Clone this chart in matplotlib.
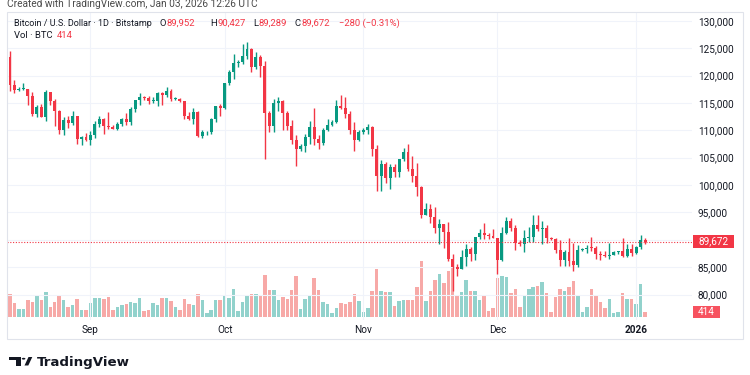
import numpy as np
import pandas as pd
import matplotlib
matplotlib.use('Agg')
import matplotlib.pyplot as plt
from matplotlib.patches import Rectangle, Polygon, Circle

plt.rcParams['font.family'] = ['Roboto', 'DejaVu Sans']

# daily BTC/USD (Bitstamp), prices in thousands of USD
dates = pd.date_range('2025-08-14', '2026-01-03', freq='D')

opens = [123.3, 118.3, 117.4, 117.5, 117.6, 116.3, 112.9, 114.3, 112.5, 116.9,
         115.4, 113.5, 110.1, 111.8, 111.3, 112.6, 108.4, 108.8, 108.3, 109.2,
         111.2, 112.1, 110.7, 110.6, 110.2, 111.2, 112.1, 111.5, 113.9, 115.5,
         116.1, 115.9, 115.3, 115.4, 116.8, 116.5, 117.1, 115.7, 115.8, 115.3,
         112.7, 112.0, 113.3, 109.0, 109.6, 109.7, 112.1, 114.4, 114.0, 118.6,
         120.6, 122.3, 122.4, 123.5, 124.8, 121.5, 123.3, 121.7, 113.2, 110.7,
         115.0, 115.3, 113.1, 110.8, 108.2, 106.5, 107.2, 108.7, 110.6, 108.5,
         107.6, 110.1, 111.0, 111.6, 114.5, 114.1, 112.9, 110.0, 108.3, 109.6,
         110.1, 110.6, 106.5, 101.6, 103.9, 101.3, 103.3, 102.3, 104.7, 106.0,
         103.0, 101.6, 99.7, 94.5, 95.6, 94.2, 92.2, 92.9, 91.5, 86.6,
         85.1, 84.7, 86.8, 88.3, 87.4, 90.5, 91.3, 90.9, 90.8, 90.4,
         86.3, 91.3, 93.5, 92.1, 89.4, 89.3, 90.4, 90.6, 92.7, 92.0,
         92.1, 90.3, 90.2, 88.2, 86.4, 87.8, 86.1, 85.5, 88.1, 88.3,
         88.6, 88.5, 87.4, 87.2, 87.1, 87.3, 87.8, 87.9, 87.1, 88.4,
         87.6, 88.7, 89.952]
highs = [124.5, 119.2, 117.9, 118.6, 117.6, 117.0, 114.6, 114.8, 117.4, 117.0,
         115.7, 113.7, 112.4, 112.6, 113.5, 112.7, 108.9, 109.5, 109.9, 111.7,
         112.6, 112.2, 113.4, 111.0, 111.5, 112.3, 113.2, 114.3, 115.5, 116.8,
         116.3, 116.2, 116.0, 117.0, 117.0, 117.9, 117.5, 116.1, 115.9, 115.4,
         113.3, 114.0, 113.5, 110.0, 109.8, 112.3, 114.5, 114.8, 118.6, 121.0,
         123.9, 122.9, 125.7, 126.2, 125.1, 124.2, 123.8, 122.6, 113.5, 115.8,
         116.0, 115.5, 113.6, 111.9, 109.2, 107.5, 109.4, 111.7, 114.0, 109.2,
         110.4, 112.0, 111.9, 115.5, 116.4, 116.1, 113.6, 111.5, 110.1, 110.5,
         111.2, 110.8, 107.3, 104.5, 104.2, 103.9, 103.9, 104.8, 106.7, 107.5,
         105.3, 104.0, 99.9, 96.8, 96.6, 96.0, 93.8, 92.9, 93.2, 87.5,
         85.6, 88.1, 89.2, 88.7, 90.6, 91.9, 93.0, 91.2, 92.0, 90.4,
         92.3, 94.1, 94.0, 92.7, 90.0, 91.8, 92.3, 94.6, 94.5, 93.5,
         92.8, 90.6, 90.3, 90.0, 88.2, 90.3, 89.4, 89.0, 88.6, 89.0,
         90.6, 88.9, 87.9, 88.0, 89.5, 87.9, 88.0, 90.3, 89.3, 89.2,
         88.8, 90.9, 90.427]
lows = [117.2, 116.8, 117.2, 117.3, 114.7, 112.7, 112.4, 112.4, 111.7, 114.6,
        110.8, 109.3, 109.1, 110.4, 110.9, 107.5, 107.4, 108.1, 107.3, 108.6,
        110.6, 109.4, 110.2, 110.2, 110.0, 110.8, 110.9, 110.9, 113.4, 114.7,
        115.6, 114.8, 114.9, 114.4, 114.6, 116.1, 115.4, 115.6, 115.1, 112.0,
        111.9, 111.1, 108.7, 108.6, 109.1, 109.3, 111.6, 112.7, 113.9, 118.3,
        119.3, 121.6, 122.1, 123.0, 120.6, 121.1, 119.7, 104.8, 109.7, 109.7,
        113.6, 110.1, 110.1, 107.5, 103.5, 106.3, 106.1, 107.5, 107.4, 106.6,
        107.4, 109.8, 110.7, 111.3, 113.9, 112.2, 109.3, 106.3, 108.0, 109.4,
        109.3, 105.3, 98.9, 98.9, 100.3, 99.3, 101.5, 101.5, 104.4, 102.5,
        100.6, 98.0, 94.0, 94.5, 93.0, 91.2, 89.3, 88.6, 86.1, 80.6,
        83.5, 84.6, 85.3, 86.2, 86.4, 90.1, 90.2, 90.2, 90.3, 83.8,
        86.2, 91.0, 91.7, 88.1, 88.9, 87.7, 89.6, 89.6, 91.6, 89.3,
        89.5, 89.9, 87.6, 85.2, 85.3, 85.3, 84.4, 85.1, 88.0, 87.6,
        87.9, 86.6, 86.4, 86.8, 86.6, 87.2, 87.4, 86.8, 86.8, 87.0,
        87.4, 88.4, 89.289]
closes = [118.3, 117.4, 117.5, 117.6, 116.3, 112.9, 114.3, 112.5, 116.9, 115.4,
          113.5, 110.1, 111.8, 111.3, 112.6, 108.4, 108.8, 108.3, 109.2, 111.2,
          112.1, 110.7, 110.6, 110.2, 111.2, 112.1, 111.5, 113.9, 115.5, 116.1,
          115.9, 115.3, 115.4, 116.8, 116.5, 117.1, 115.7, 115.8, 115.3, 112.7,
          112.0, 113.3, 109.0, 109.6, 109.7, 112.1, 114.4, 114.0, 118.6, 120.6,
          122.3, 122.4, 123.5, 124.8, 121.5, 123.3, 121.7, 113.2, 110.7, 115.0,
          115.3, 113.1, 110.8, 108.2, 106.5, 107.2, 108.7, 110.6, 108.5, 107.6,
          110.1, 111.0, 111.6, 114.5, 114.1, 112.9, 110.0, 108.3, 109.6, 110.1,
          110.6, 106.5, 101.6, 103.9, 101.3, 103.3, 102.3, 104.7, 106.0, 103.0,
          101.6, 99.7, 94.5, 95.6, 94.2, 92.2, 92.9, 91.5, 86.6, 85.1,
          84.7, 86.8, 88.3, 87.4, 90.5, 91.3, 90.9, 90.8, 90.4, 86.3,
          91.3, 93.5, 92.1, 89.4, 89.3, 90.4, 90.6, 92.7, 92.0, 92.1,
          90.3, 90.2, 88.2, 86.4, 87.8, 86.1, 85.5, 88.1, 88.3, 88.6,
          88.5, 87.4, 87.2, 87.1, 87.3, 87.8, 87.9, 87.1, 88.4, 87.6,
          88.7, 89.952, 89.672]
# volume in BTC
volume = [1910, 1160, 660, 660, 1410, 1250, 1740, 1410, 2080, 830,
          1250, 1830, 1410, 830, 1000, 1490, 580, 580, 1160, 1580,
          1580, 1490, 1660, 580, 830, 1000, 1080, 1250, 1160, 1580,
          500, 580, 1160, 1000, 1580, 1580, 1330, 830, 580, 1490,
          1080, 1000, 1910, 1410, 330, 580, 1410, 1410, 1740, 1580,
          2320, 500, 1250, 1830, 1910, 1910, 1740, 3490, 2240, 2240,
          1410, 1660, 1490, 2240, 3400, 660, 1490, 1830, 3240, 2240,
          1250, 1080, 330, 750, 1160, 1080, 1250, 1910, 1330, 420,
          750, 2160, 3980, 2160, 2080, 2080, 910, 1330, 1410, 1410,
          1410, 2490, 4650, 1330, 2160, 3070, 3570, 2820, 3820, 4570,
          1830, 2080, 3070, 2160, 2160, 1410, 1740, 500, 750, 3240,
          3400, 3320, 1990, 2320, 830, 1830, 2320, 2490, 2570, 2900,
          1990, 420, 1660, 2320, 2160, 2490, 2990, 1740, 420, 830,
          2320, 1830, 1250, 750, 1490, 330, 420, 1990, 1490, 1490,
          1080, 2740, 414]

o = np.array(opens) * 1000
h = np.array(highs) * 1000
l = np.array(lows) * 1000
c = np.array(closes) * 1000
v = np.array(volume)
x = np.arange(len(dates))
up = c >= o

UP, DOWN = '#089981', '#F23645'
cols = np.where(up, UP, DOWN)
vcols = np.where(up, '#92d2cc', '#f7a9a7')

W, H = 750, 375
fig = plt.figure(figsize=(7.5, 3.75), dpi=100)
rect = [7 / W, 1 - 320 / H, 685 / W, 308 / H]
xlim = (-0.67, 152.5)

# volume pane behind the candles
ax_vol = fig.add_axes(rect)
ax_vol.bar(x, v, width=0.78, color=vcols, linewidth=0)
ax_vol.set_xlim(*xlim)
ax_vol.set_ylim(-250, 25300)
ax_vol.axis('off')

ax = fig.add_axes(rect, facecolor='none')
ax.vlines(x, l, h, colors=cols, linewidth=1)
body = np.maximum(np.abs(c - o), 150)
ax.bar(x, body, bottom=np.minimum(o, c), width=0.66, color=cols, linewidth=0)
ax.set_xlim(*xlim)
ax.set_ylim(75380, 131590)

# ticks
yt = np.arange(80000, 130001, 5000)
ax.set_yticks(yt)
ax.set_yticklabels(['' if t == 90000 else f'{t:,}' for t in yt])
ax.yaxis.tick_right()
ax.tick_params(axis='y', length=0, pad=4.3, labelsize=7.2, labelcolor='#131722')
ms = [i for i, d in enumerate(dates) if d.day == 1]
mlab = [str(dates[i].year) if dates[i].month == 1 else dates[i].strftime('%b') for i in ms]
ax.set_xticks(ms)
ax.set_xticklabels(mlab)
ax.tick_params(axis='x', length=0, pad=3.5, labelsize=7.2, labelcolor='#131722')
ax.get_xticklabels()[-1].set_fontweight('bold')
ax.grid(color='#f0f3fa', linewidth=0.8)
ax.set_axisbelow(True)
for s in ax.spines.values():
    s.set_visible(False)

# last price line and labels
last = c[-1]
ax.axhline(last, color=DOWN, linestyle=(0, (1, 1.5)), linewidth=0.8)
ty = ax.get_yaxis_transform()
ax.add_patch(Rectangle((1.001, last - 1150), 41 / 685, 2300, transform=ty,
                       facecolor=DOWN, edgecolor='none', clip_on=False))
ax.text(1.001 + 20.5 / 685, last, f'{last:,.0f}', transform=ty, ha='center',
        va='center', color='white', fontsize=7.2)
tv = ax_vol.get_yaxis_transform()
ax_vol.add_patch(Rectangle((1.001, v[-1] - 470), 27 / 685, 940, transform=tv,
                           facecolor='#F7525F', edgecolor='none', clip_on=False))
ax_vol.text(1.001 + 13.5 / 685, v[-1], f'{v[-1]}', transform=tv, ha='center',
            va='center', color='white', fontsize=7.2)

# frame
fig.add_artist(Rectangle((7 / W, 1 - 339 / H), 736 / W, 327 / H, transform=fig.transFigure,
                         fill=False, edgecolor='#e0e3eb', linewidth=0.8))

def px(xp, yp):
    return xp / W, 1 - yp / H

renderer = fig.canvas.get_renderer()

def after(t, gap=0.6):
    # x (pixels) just right of a drawn text
    return t.get_window_extent(renderer).x1 + gap

# header
fig.text(*px(7, 7), 'Created with TradingView.com, Jan 03, 2026 12:26 UTC',
         va='baseline', fontsize=7.3, color='#4a4a4a')
hy = 23.3
hs = 6.5
fig.text(*px(14, hy), 'Bitcoin / U.S. Dollar · 1D · Bitstamp', va='center', fontsize=hs, color='#131722')
ohlc = [(160, 'O', o[-1]), (210.5, 'H', h[-1]), (253, 'L', l[-1]), (294.5, 'C', c[-1])]
for xp, letter, val in ohlc:
    t = fig.text(*px(xp, hy), letter, va='center', fontsize=hs + 0.3, color='#131722')
    fig.text(*px(after(t), hy), f'{val:,.0f}', va='center', fontsize=hs + 0.3, color=DOWN)
chg = c[-1] - o[-1]
fig.text(*px(339, hy), f'\u2212{abs(chg):.0f} (\u2212{abs(chg) / o[-1] * 100:.2f}%)',
         va='center', fontsize=hs + 0.3, color=DOWN)
t = fig.text(*px(14, 36), 'Vol · BTC', va='center', fontsize=hs + 0.3, color='#131722')
fig.text(*px(after(t, 4), 36), f'{v[-1]}', va='center', fontsize=hs + 0.3, color=DOWN)

# footer logo
fig.add_artist(Polygon([px(9, 357), px(21, 357), px(21, 365.5), px(15.5, 365.5),
                        px(15.5, 360.3), px(9, 360.3)], closed=True,
                       transform=fig.transFigure, facecolor='#131722', edgecolor='none'))
fig.add_artist(Circle(px(23.6, 358.7), 1.8 / W, transform=fig.transFigure,
                      facecolor='#131722', edgecolor='none'))
fig.add_artist(Polygon([px(24.5, 365.5), px(28.3, 365.5), px(32.3, 357), px(28.5, 357)],
                       closed=True, transform=fig.transFigure,
                       facecolor='#131722', edgecolor='none'))
fig.text(*px(37, 362.2), 'TradingView', va='center', fontsize=9.6,
         fontweight='bold', family='DejaVu Sans', color='#131722')

fig.savefig('out.png', dpi=100, facecolor='white')
